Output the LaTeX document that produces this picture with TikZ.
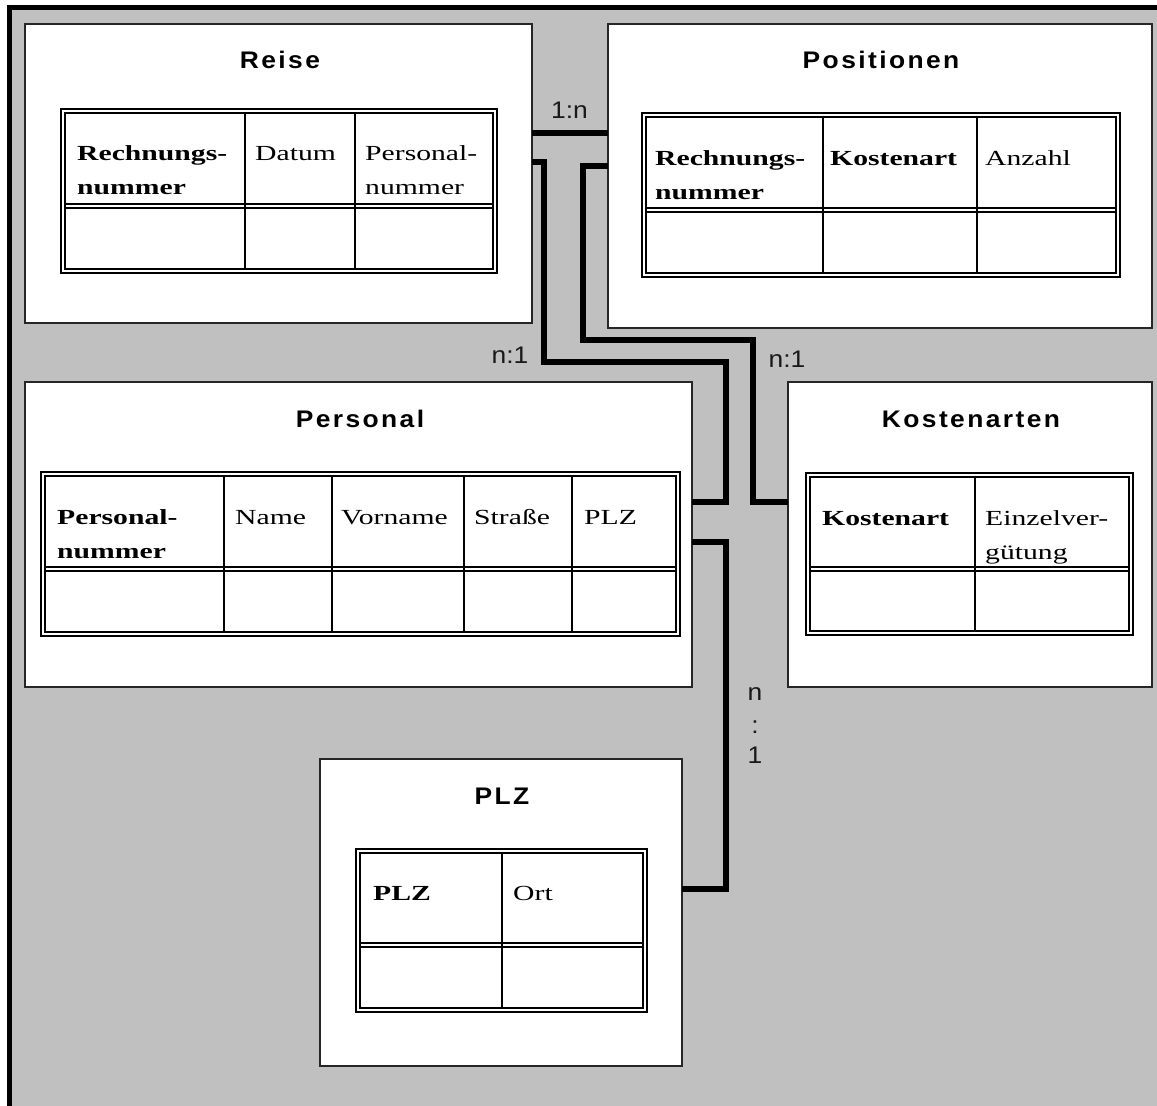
\documentclass[tikz,border=0pt]{standalone}
\usepackage{fontspec}
\setmainfont{Liberation Serif}
\newfontfamily\titlefont[LetterSpace=10,FakeStretch=1.1]{Liberation Sans}
\newfontfamily\cellfont[FakeStretch=1.38]{Liberation Serif}
\newfontfamily\labelfont[FakeStretch=1.1]{Liberation Sans}
\definecolor{bg}{HTML}{C0C0C0}
\newcommand\ertab[6]{%
  \draw[tab] (#1,#2) rectangle (#3,#4);
  \draw[tab] (#1+4,#2+4) rectangle (#3-4,#4-4);
  \draw[tab] (#1+4,#5) -- (#3-4,#5);
  \draw[tab] (#1+4,#5+4) -- (#3-4,#5+4);
  \foreach \c in {#6} {\draw[tab] (\c,#2+4) -- (\c,#4-4);}%
}
\begin{document}
\begin{tikzpicture}[x=1pt,y=-1pt,
  box/.style={draw=black!85,line width=1.4pt,fill=white,anchor=north west,inner sep=0pt,outer sep=0pt},
  ttl/.style={anchor=base,inner sep=0pt,font=\titlefont\bfseries\fontsize{24}{28}\selectfont},
  cellb/.style={anchor=base west,inner sep=0pt,font=\cellfont\bfseries\fontsize{21.5}{25}\selectfont},
  cellr/.style={anchor=base west,inner sep=0pt,font=\cellfont\fontsize{21.5}{25}\selectfont},
  tab/.style={draw=black,line width=1.3pt},
  conn/.style={line width=5.5pt,draw=black},
  card/.style={anchor=base,inner sep=0pt,font=\labelfont\fontsize{24}{28}\selectfont,text=black!90}]
\useasboundingbox (0,0) rectangle (1157,1106);
% frame and background
\fill[white] (0,0) rectangle (1157,1106);
\fill[black] (7,5) rectangle (1157,1106);
\fill[bg] (12,10) rectangle (1157,1106);

% entity boxes
\node[box,minimum width=507pt,minimum height=299pt] (reise) at (25,24) {};
\node[box,minimum width=544pt,minimum height=304pt] (pos) at (608,24) {};
\node[box,minimum width=667pt,minimum height=305pt] (pers) at (25,382) {};
\node[box,minimum width=364pt,minimum height=305pt] (kost) at (788,382) {};
\node[box,minimum width=362pt,minimum height=307pt] (plz) at (320,759) {};

% connectors
\draw[conn] (reise.east |- 0,133) -- (pos.west |- 0,133);
\draw[conn] (reise.east |- 0,162) -- (544,162) -- (544,362) -- (726,362) -- (726,502) -- (pers.east |- 0,502);
\draw[conn] (pos.west |- 0,166) -- (583,166) -- (583,340) -- (753,340) -- (753,502) -- (kost.west |- 0,502);
\draw[conn] (pers.east |- 0,542) -- (726,542) -- (726,889) -- (plz.east |- 0,889);

% cardinalities
\node[card] (c1) at (569.5,118) {1:n};
\node[card] (c2) at (510,363) {n:1};
\node[card] (c3) at (787,367) {n:1};
\node[card] (c4a) at (755,700) {n};
\node[card] (c4b) at (755,733) {:};
\node[card] (c4c) at (755,763) {1};

% titles
\node[ttl] (t1) at (280,68) {Reise};
\node[ttl] (t2) at (881,68) {Positionen};
\node[ttl] (t3) at (360,427) {Personal};
\node[ttl] (t4) at (971,427) {Kostenarten};
\node[ttl] (t5) at (502,804) {PLZ};

% tables
\ertab{61}{109}{497}{273}{204}{245,355}
\ertab{642}{113}{1120}{277}{208}{823,977}
\ertab{41}{472}{680}{636}{567}{224,332,464,572}
\ertab{806}{473}{1133}{635}{567}{975}
\ertab{356}{849}{647}{1012}{943}{502}

% Reise cells
\node[cellb] (r1) at (77,160) {Rechnungs-};
\node[cellb] (r2) at (77,194) {nummer};
\node[cellr] (r3) at (255,160) {Datum};
\node[cellr] (r4) at (365,160) {Personal-};
\node[cellr] (r5) at (365,194) {nummer};
% Positionen cells
\node[cellb] (p1) at (655,165) {Rechnungs-};
\node[cellb] (p2) at (655,199) {nummer};
\node[cellb] (p3) at (830,165) {Kostenart};
\node[cellr] (p4) at (985,165) {Anzahl};
% Personal cells
\node[cellb] (e1) at (57,524) {Personal-};
\node[cellb] (e2) at (57,558) {nummer};
\node[cellr] (e3) at (235,524) {Name};
\node[cellr] (e4) at (341,524) {Vorname};
\node[cellr] (e5) at (474,524) {Straße};
\node[cellr] (e6) at (584,524) {PLZ};
% Kostenarten cells
\node[cellb] (k1) at (822,525) {Kostenart};
\node[cellr] (k2) at (985,525) {Einzelver-};
\node[cellr] (k3) at (985,559) {gütung};
% PLZ cells
\node[cellb] (z1) at (373,900) {PLZ};
\node[cellr] (z2) at (513,900) {Ort};
\end{tikzpicture}
\end{document}
